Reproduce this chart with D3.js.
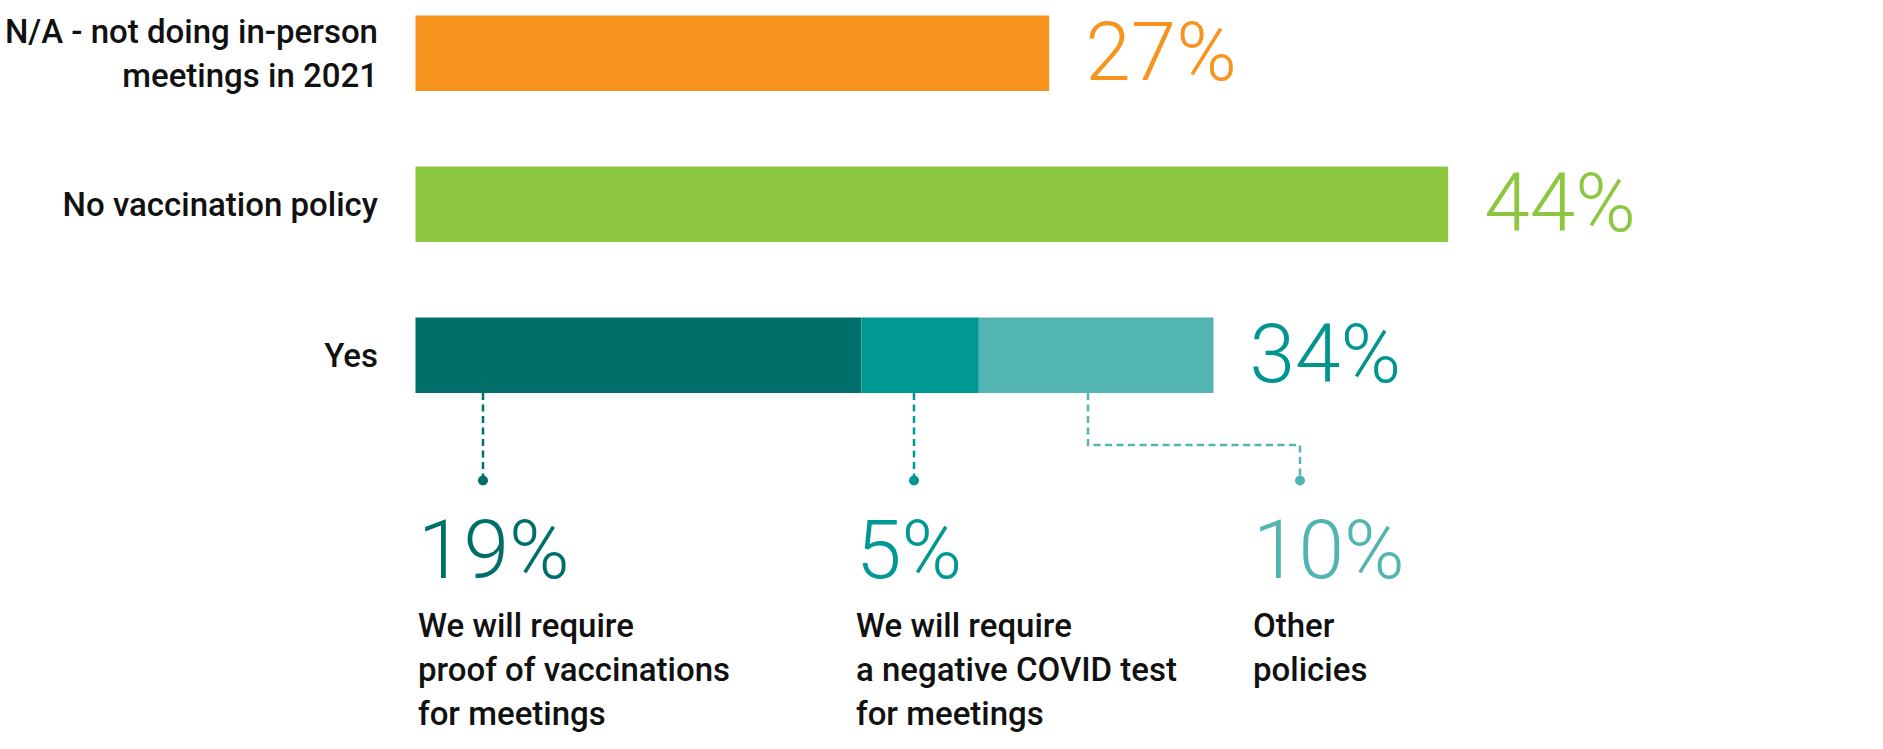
<!DOCTYPE html>
<html>
<head>
<meta charset="utf-8">
<script src="https://cdn.jsdelivr.net/npm/d3@7"></script>
<style>
  html, body { margin: 0; padding: 0; background: #fff; }
  svg { display: block; }
  .cat-label { font-family: Roboto, "Noto Sans", sans-serif; font-weight: 500; font-size: 33px; fill: #111; }
  .value-label { font-family: Roboto, "Noto Sans", sans-serif; font-weight: 300; font-size: 82px; }
  .note-label { font-family: Roboto, "Noto Sans", sans-serif; font-weight: 500; font-size: 33px; fill: #111; }
</style>
</head>
<body>
<div id="chart"></div>
<script>
// data
const categories = ['N/A - not doing in-person meetings in 2021', 'No vaccination policy', 'Yes'];
const categoryLines = [['N/A - not doing in-person', 'meetings in 2021'], ['No vaccination policy'], ['Yes']];
const totals = [27, 44, 34];
const barColors = ['#F7941D', '#8DC63F', '#00958F'];

const yesParts = [19, 5, 10];
const yesColors = ['#006F6A', '#009893', '#53B5B2'];
const yesNotes = [
    ['We will require', 'proof of vaccinations', 'for meetings'],
    ['We will require', 'a negative COVID test', 'for meetings'],
    ['Other', 'policies']
];

// callout layout (pixel offsets, not data)
const noteTextX = [418, 856, 1253];
const noteDotX = [483, 914, 1300];
const noteStartX = [483, 914, 1088];

const width = 1883, height = 749;
const barLeft = 415.5, unit = 23.47;

const svg = d3.select('#chart')
    .append('svg')
    .attr('width', width)
    .attr('height', height);

const x = d3.scaleLinear()
    .domain([0, 100])
    .range([barLeft, barLeft + unit * 100]);

const y = d3.scaleBand()
    .domain(categories)
    .range([15.5, 393])
    .paddingInner(0.5)
    .paddingOuter(0);

const bw = y.bandwidth();

// plain bars (first two)
svg.append('g')
    .selectAll('rect')
    .data(categories.slice(0, 2))
    .join('rect')
    .attr('x', x(0))
    .attr('y', d => y(d))
    .attr('width', (d, i) => x(totals[i]) - x(0))
    .attr('height', bw)
    .attr('fill', (d, i) => barColors[i]);

// stacked "Yes" bar
const stack = [];
let acc = 0;
yesParts.forEach((v, i) => {
    stack.push({v, start: acc, end: acc + v, color: yesColors[i], i});
    acc += v;
});
const yesY = y('Yes');

svg.append('g')
    .selectAll('rect')
    .data(stack)
    .join('rect')
    .attr('x', d => x(d.start))
    .attr('y', yesY)
    .attr('width', d => x(d.end) - x(d.start))
    .attr('height', bw)
    .attr('fill', d => d.color);

// category labels
const cat = svg.append('g')
    .selectAll('text')
    .data(categories)
    .join('text')
    .attr('class', 'cat-label')
    .attr('text-anchor', 'end')
    .attr('x', 378)
    .attr('y', (d, i) => {
        const c = y(d) + bw / 2;
        return categoryLines[i].length > 1 ? c - 10 : c + 12;
    });
cat.each(function(d, i) {
    d3.select(this).selectAll('tspan')
        .data(categoryLines[i])
        .join('tspan')
        .attr('x', 378)
        .attr('dy', (t, j) => j === 0 ? 0 : 44)
        .text(t => t);
});

// value labels
svg.append('g')
    .selectAll('text')
    .data(categories)
    .join('text')
    .attr('class', 'value-label')
    .attr('x', (d, i) => x(totals[i]) + 36)
    .attr('y', d => y(d) + bw / 2 + 27)
    .attr('fill', (d, i) => barColors[i])
    .text((d, i) => totals[i] + '%');

// callout lines
const barBottom = yesY + bw;
const dotY = 480.5, elbowY = 445;
const lineGen = d3.line();

svg.append('g')
    .selectAll('path')
    .data(stack)
    .join('path')
    .attr('d', d => {
        const sx = noteStartX[d.i], dx = noteDotX[d.i];
        if (sx === dx) return lineGen([[sx, barBottom], [sx, dotY]]);
        return lineGen([[sx, barBottom], [sx, elbowY], [dx, elbowY], [dx, dotY]]);
    })
    .attr('fill', 'none')
    .attr('stroke', d => d.color)
    .attr('stroke-width', 2.5)
    .attr('stroke-dasharray', '7,4.5');

svg.append('g')
    .selectAll('circle')
    .data(stack)
    .join('circle')
    .attr('cx', d => noteDotX[d.i])
    .attr('cy', dotY)
    .attr('r', 5)
    .attr('fill', d => d.color);

// callout values
svg.append('g')
    .selectAll('text')
    .data(stack)
    .join('text')
    .attr('class', 'value-label')
    .attr('x', d => noteTextX[d.i])
    .attr('y', 578)
    .attr('fill', d => d.color)
    .text(d => d.v + '%');

// callout descriptions
svg.append('g')
    .selectAll('text')
    .data(stack)
    .join('text')
    .attr('class', 'note-label')
    .attr('x', d => noteTextX[d.i])
    .attr('y', 637)
    .each(function(d) {
        d3.select(this).selectAll('tspan')
            .data(yesNotes[d.i])
            .join('tspan')
            .attr('x', noteTextX[d.i])
            .attr('dy', (t, j) => j === 0 ? 0 : 44)
            .text(t => t);
    });
</script>
</body>
</html>
